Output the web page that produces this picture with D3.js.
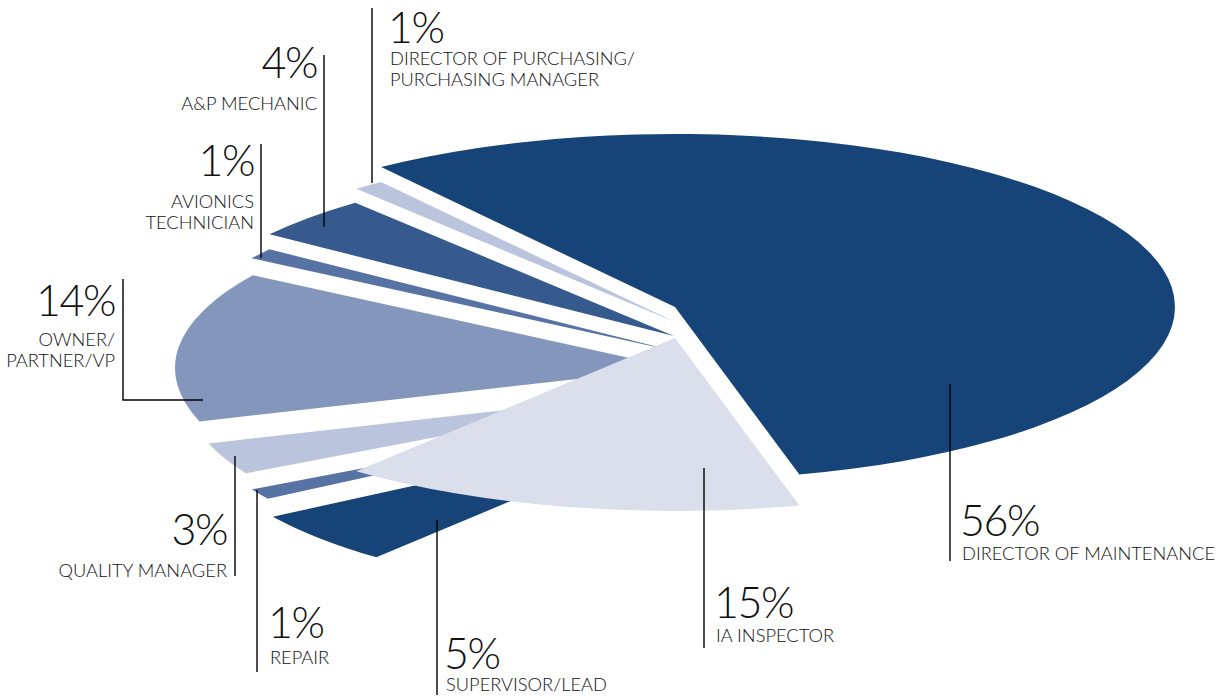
<!DOCTYPE html>
<html>
<head>
<meta charset="utf-8">
<style>
  html, body { margin: 0; padding: 0; background: #fff; }
  svg { display: block; }
  text { font-family: Lato, "Open Sans", sans-serif; font-weight: 300; fill: #111; }
  .pct { font-size: 43px; letter-spacing: -1.5px; }
  .role { font-size: 18.3px; }
</style>
<script src="https://cdn.jsdelivr.net/npm/d3@7"></script>
</head>
<body>
<svg id="chart" width="1220" height="696"></svg>
<script>
// Survey shares by job title, in percent, clockwise around the pie
const roles = [
  ["DIRECTOR OF MAINTENANCE"],
  ["IA INSPECTOR"],
  ["SUPERVISOR/LEAD"],
  ["REPAIR"],
  ["QUALITY MANAGER"],
  ["OWNER/", "PARTNER/VP"],
  ["AVIONICS", "TECHNICIAN"],
  ["A&P MECHANIC"],
  ["DIRECTOR OF PURCHASING/", "PURCHASING MANAGER"]
];
const shares = [56, 15, 5, 1, 3, 14, 1, 4, 1];
const sliceColors = ["#174478", "#dadfeb", "#174478", "#5773a3", "#bbc4dd", "#8496bb", "#5773a3", "#365a8e", "#bbc4dd"];

// Where each exploded slice has its tip
const tips = [[675, 307], [675, 338], [695, 424], [690, 406], [684, 390], [675, 368], [674, 351], [674, 336], [675, 322]];

// Leader line vertices for each slice
const leaders = [
  [[950, 384], [950, 561]],
  [[704, 468], [704, 648]],
  [[437, 520], [437, 695]],
  [[257, 490], [257, 672]],
  [[235, 456], [235, 576]],
  [[203, 400], [123, 400], [123, 279]],
  [[261, 144], [261, 258]],
  [[324, 55], [324, 227]],
  [[372, 8], [372, 183]]
];

// Text anchor: x, percent baseline, first role-line baseline, alignment
const captions = [
  [962, 536, 560, "start"],
  [716, 618, 642, "start"],
  [446, 669, 691, "start"],
  [270, 638, 664, "start"],
  [227, 545, 577, "end"],
  [115, 316, 346, "end"],
  [254, 176, 208, "end"],
  [317, 78, 110, "end"],
  [390, 43, 65, "start"]
];

const radius = 500;
const tilt = 173 / 500;
const roleLineHeight = 21;
const startAngle = -36 * Math.PI / 180;

const svg = d3.select("#chart");

const pie = d3.pie().sort(null).startAngle(startAngle).endAngle(startAngle + 2 * Math.PI);
const arc = d3.arc().innerRadius(0).outerRadius(radius);

const slices = pie(shares).map((d, i) => ({ ...d, i }));
// The IA Inspector wedge sits over the tips of the narrow wedges behind it
const drawOrder = slices.filter(d => d.i !== 1).concat(slices.filter(d => d.i === 1));

svg.append("g").selectAll("path")
  .data(drawOrder)
  .join("path")
  .attr("d", arc)
  .attr("fill", d => sliceColors[d.i])
  .attr("transform", d => `translate(${tips[d.i][0]},${tips[d.i][1]}) scale(1,${tilt})`);

const line = d3.line();
svg.append("g").selectAll("path")
  .data(leaders)
  .join("path")
  .attr("d", d => line(d))
  .attr("fill", "none")
  .attr("stroke", "#000")
  .attr("stroke-width", 1.4);

const caption = svg.append("g").selectAll("g")
  .data(shares)
  .join("g")
  .attr("text-anchor", (d, i) => captions[i][3]);

caption.append("text")
  .attr("class", "pct")
  .attr("x", (d, i) => captions[i][0] - (captions[i][3] === "start" ? 2 : 0))
  .attr("y", (d, i) => captions[i][1])
  .text(d => d + "%");

caption.each(function (d, i) {
  d3.select(this).selectAll("text.role")
    .data(roles[i])
    .join("text")
    .attr("class", "role")
    .attr("x", captions[i][0])
    .attr("y", (t, k) => captions[i][2] + k * roleLineHeight)
    .text(t => t);
});
</script>
</body>
</html>
